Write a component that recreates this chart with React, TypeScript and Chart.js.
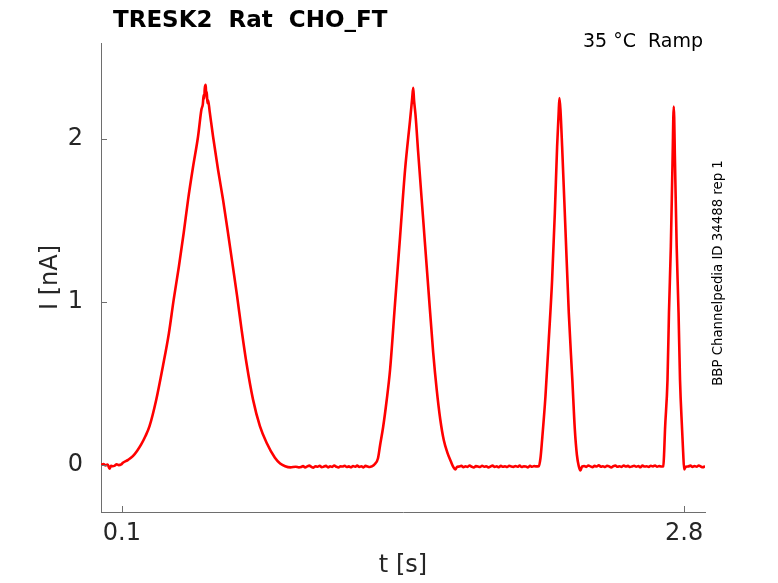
import React, { useEffect, useRef } from "react";
import { Chart, registerables } from "chart.js";

Chart.register(...registerables);

// sweep in segments (t in s, I in nA)
const leadT = [0.0, 0.012, 0.022, 0.032, 0.041, 0.048, 0.056, 0.066, 0.075, 0.085, 0.097];
const leadI = [-0.002, 0.004, -0.004, 0.002, -0.024, -0.006, -0.009, -0.005, 0.003, -0.002, 0.002];

const peak1T = [
  0.105, 0.13, 0.153, 0.173, 0.193, 0.213, 0.233, 0.2655, 0.297, 0.326,
  0.349, 0.374, 0.397, 0.418, 0.442, 0.466, 0.482, 0.489, 0.493, 0.496,
  0.498, 0.503, 0.505, 0.508, 0.511, 0.514, 0.522, 0.538, 0.562, 0.586,
  0.61, 0.634, 0.653, 0.675, 0.699, 0.73, 0.763, 0.795, 0.835, 0.86,
  0.884, 0.91, 0.935, 0.95,
];
const peak1I = [
  0.012, 0.03, 0.053, 0.085, 0.125, 0.175, 0.237, 0.401, 0.604, 0.808,
  1.014, 1.218, 1.423, 1.627, 1.83, 2.016, 2.18, 2.215, 2.272, 2.25,
  2.309, 2.333, 2.27, 2.29, 2.221, 2.24, 2.167, 2.016, 1.812, 1.627,
  1.422, 1.21, 1.04, 0.83, 0.62, 0.4, 0.237, 0.135, 0.043, 0.008,
  -0.009, -0.016, -0.012, -0.016,
];

const base1T = [
  0.96, 0.97, 0.98, 0.99, 1.0, 1.01, 1.02, 1.03, 1.04, 1.05,
  1.06, 1.07, 1.08, 1.09, 1.1, 1.11, 1.12, 1.13, 1.14, 1.15,
  1.16, 1.17, 1.18, 1.19, 1.2, 1.21, 1.22, 1.23, 1.24, 1.25,
  1.26, 1.27, 1.28, 1.29, 1.3,
];
const base1I = [
  -0.014, -0.008, -0.016, -0.01, -0.005, -0.013, -0.018, -0.009, -0.012, -0.006,
  -0.015, -0.011, -0.007, -0.016, -0.01, -0.013, -0.004, -0.012, -0.017, -0.009,
  -0.011, -0.006, -0.014, -0.01, -0.015, -0.008, -0.012, -0.005, -0.013, -0.009,
  -0.016, -0.007, -0.011, -0.014, -0.01,
];

const peak2T = [
  1.315, 1.33, 1.34, 1.355, 1.371, 1.388, 1.412, 1.436, 1.46, 1.484,
  1.494, 1.499, 1.503, 1.51, 1.523, 1.547, 1.571, 1.595, 1.612, 1.629,
  1.646, 1.663, 1.68, 1.692, 1.701, 1.71,
];
const peak2I = [
  0.005, 0.04, 0.12, 0.235, 0.39, 0.585, 0.996, 1.401, 1.812, 2.118,
  2.25, 2.315, 2.24, 2.15, 1.916, 1.505, 1.094, 0.689, 0.46, 0.278,
  0.15, 0.075, 0.02, -0.015, -0.029, -0.012,
];

const base2T = [
  1.72, 1.73, 1.74, 1.75, 1.76, 1.77, 1.78, 1.79, 1.8, 1.81,
  1.82, 1.83, 1.84, 1.85, 1.86, 1.87, 1.88, 1.89, 1.9, 1.91,
  1.92, 1.93, 1.94, 1.95, 1.96, 1.97, 1.98, 1.99, 2.0, 2.01,
  2.02, 2.03, 2.04, 2.05, 2.06, 2.07, 2.08, 2.09,
];
const base2I = [
  -0.011, -0.006, -0.015, -0.009, -0.013, -0.004, -0.012, -0.017, -0.008, -0.01,
  -0.014, -0.006, -0.012, -0.009, -0.016, -0.011, -0.005, -0.013, -0.01, -0.015,
  -0.007, -0.012, -0.009, -0.014, -0.006, -0.011, -0.013, -0.008, -0.012, -0.005,
  -0.014, -0.009, -0.011, -0.016, -0.007, -0.012, -0.008, -0.01,
];

const peak3T = [
  2.102, 2.11, 2.118, 2.134, 2.15, 2.166, 2.179, 2.19, 2.197, 2.201,
  2.206, 2.214, 2.23, 2.246, 2.263, 2.275, 2.285, 2.294, 2.302, 2.31,
];
const peak3I = [
  -0.009, 0.04, 0.155, 0.421, 0.769, 1.137, 1.546, 1.955, 2.15, 2.252,
  2.18, 1.955, 1.444, 0.933, 0.523, 0.217, 0.06, -0.009, -0.035, -0.01,
];

const base3T = [
  2.32, 2.33, 2.34, 2.35, 2.36, 2.37, 2.38, 2.39, 2.4, 2.41,
  2.42, 2.43, 2.44, 2.45, 2.46, 2.47, 2.48, 2.49, 2.5, 2.51,
  2.52, 2.53, 2.54, 2.55, 2.56, 2.57, 2.58, 2.59, 2.6, 2.61,
  2.62, 2.63, 2.64, 2.65, 2.66, 2.67, 2.68, 2.69,
];
const base3I = [
  -0.008, -0.013, -0.004, -0.01, -0.015, -0.007, -0.011, -0.003, -0.012, -0.009,
  -0.014, -0.006, -0.01, -0.016, -0.008, -0.005, -0.012, -0.009, -0.013, -0.004,
  -0.011, -0.007, -0.014, -0.01, -0.006, -0.012, -0.008, -0.015, -0.005, -0.011,
  -0.009, -0.013, -0.006, -0.01, -0.004, -0.012, -0.008, -0.011,
];

const peak4T = [
  2.7, 2.704, 2.708, 2.72, 2.727, 2.736, 2.744, 2.75, 2.756, 2.764,
  2.773, 2.78, 2.79, 2.795, 2.8, 2.808,
];
const peak4I = [
  -0.009, 0.08, 0.217, 0.523, 0.933, 1.341, 1.853, 2.2, 1.853, 1.341,
  0.933, 0.523, 0.217, 0.08, -0.029, -0.012,
];

const base4T = [2.82, 2.83, 2.84, 2.85, 2.86, 2.87, 2.88, 2.89, 2.9];
const base4I = [-0.01, -0.005, -0.013, -0.008, -0.012, -0.004, -0.011, -0.015, -0.008];

const xTicks = [0.1, 2.8];
const xTickLabels = ["0.1", "2.8"];
const yTicks = [0, 1, 2];
const yTickLabels = ["0", "1", "2"];

const titleText = "TRESK2  Rat  CHO_FT";
const cornerText = "35 °C  Ramp";
const sideText = "BBP Channelpedia ID 34488 rep 1";
const xLabel = "t [s]";
const yLabel = "I [nA]";

const FONT = "'DejaVu Sans', 'Liberation Sans', sans-serif";
const AXIS = "#6e6e6e";
const INK = "#262626";

const allT = [
  ...leadT, ...peak1T, ...base1T, ...peak2T, ...base2T, ...peak3T, ...base3T, ...peak4T, ...base4T,
];
const allI = [
  ...leadI, ...peak1I, ...base1I, ...peak2I, ...base2I, ...peak3I, ...base3I, ...peak4I, ...base4I,
];

const decorations = {
  id: "decorations",
  afterDraw(chart: any) {
    const { ctx, chartArea, scales } = chart;
    ctx.save();

    // inward ticks
    ctx.strokeStyle = AXIS;
    ctx.lineWidth = 1;
    ctx.beginPath();
    xTicks.forEach((v) => {
      const px = Math.round(scales.x.getPixelForValue(v)) + 0.5;
      ctx.moveTo(px, chartArea.bottom);
      ctx.lineTo(px, chartArea.bottom - 6);
    });
    yTicks.forEach((v) => {
      const py = Math.round(scales.y.getPixelForValue(v)) + 0.5;
      ctx.moveTo(chartArea.left, py);
      ctx.lineTo(chartArea.left + 6, py);
    });
    ctx.stroke();

    // title
    ctx.fillStyle = "#000";
    ctx.font = `bold 23px ${FONT}`;
    ctx.textAlign = "left";
    ctx.textBaseline = "alphabetic";
    ctx.fillText(titleText, 113, 27);

    // corner note
    ctx.font = `19px ${FONT}`;
    ctx.textAlign = "right";
    ctx.fillText(cornerText, 703, 47);

    // axis labels
    ctx.fillStyle = INK;
    ctx.font = `24px ${FONT}`;
    ctx.textAlign = "center";
    ctx.textBaseline = "middle";
    ctx.fillText(xLabel, (chartArea.left + chartArea.right) / 2, 566);

    ctx.save();
    ctx.translate(51, (chartArea.top + chartArea.bottom) / 2);
    ctx.rotate(-Math.PI / 2);
    ctx.fillText(yLabel, 0, 0);
    ctx.restore();

    // side note
    ctx.save();
    ctx.fillStyle = "#000";
    ctx.font = `13.3px ${FONT}`;
    ctx.textBaseline = "alphabetic";
    ctx.translate(722, 273);
    ctx.rotate(-Math.PI / 2);
    ctx.fillText(sideText, 0, 0);
    ctx.restore();

    ctx.restore();
  },
};

export default function App() {
  const canvasRef = useRef<HTMLCanvasElement | null>(null);
  const chartRef = useRef<Chart | null>(null);

  useEffect(() => {
    const ctx = canvasRef.current?.getContext("2d");
    if (!ctx) return;
    if (chartRef.current) chartRef.current.destroy();

    chartRef.current = new Chart(ctx, {
      type: "line",
      data: {
        datasets: [
          {
            data: allT.map((t, i) => ({ x: t, y: allI[i] })),
            borderColor: "#ff0000",
            borderWidth: 2.6,
            pointRadius: 0,
            cubicInterpolationMode: "monotone",
            fill: false,
          },
        ],
      },
      options: {
        animation: false,
        responsive: false,
        layout: { padding: { left: 0, right: 73, top: 43, bottom: 0 } },
        plugins: {
          legend: { display: false },
          title: { display: false },
          tooltip: { enabled: false },
        },
        scales: {
          x: {
            type: "linear",
            min: 0,
            max: 2.9,
            grid: { display: false, drawTicks: false },
            border: { display: true, color: AXIS, width: 1 },
            ticks: {
              color: INK,
              font: { family: FONT, size: 24 },
              padding: 7,
              maxRotation: 0,
              autoSkip: false,
              callback: (v: any) => xTickLabels[xTicks.indexOf(Number(v))] ?? "",
            },
            afterBuildTicks: (s: any) => {
              s.ticks = xTicks.map((v) => ({ value: v }));
            },
            afterFit: (s: any) => {
              s.height = 71;
            },
          },
          y: {
            type: "linear",
            min: -0.29,
            max: 2.59,
            grid: { display: false, drawTicks: false },
            border: { display: true, color: AXIS, width: 1 },
            ticks: {
              color: INK,
              font: { family: FONT, size: 24 },
              padding: 18,
              autoSkip: false,
              callback: (v: any) => yTickLabels[yTicks.indexOf(Number(v))] ?? "",
            },
            afterBuildTicks: (s: any) => {
              s.ticks = yTicks.map((v) => ({ value: v }));
            },
            afterFit: (s: any) => {
              s.width = 101;
            },
          },
        },
      },
      plugins: [decorations],
    });

    return () => {
      if (chartRef.current) {
        chartRef.current.destroy();
        chartRef.current = null;
      }
    };
  }, []);

  return (
    <div style={{ position: "absolute", left: 0, top: 0, width: 778, height: 583, background: "#fff" }}>
      <canvas ref={canvasRef} width={778} height={583} />
    </div>
  );
}
